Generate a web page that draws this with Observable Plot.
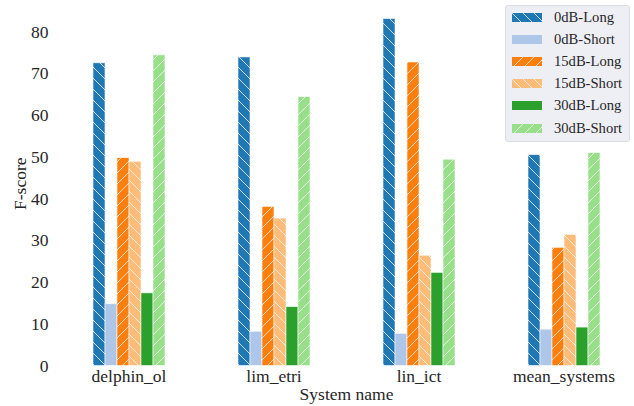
<!DOCTYPE html>
<html><head><meta charset="utf-8">
<script src="https://cdn.jsdelivr.net/npm/d3@7"></script>
<script src="https://cdn.jsdelivr.net/npm/@observablehq/plot@0.6"></script>
<style>
body{margin:0;background:#fff;}
#wrap{position:relative;width:634px;height:406px;font-family:"Liberation Serif","Times New Roman",Times,serif;}
#wrap svg, #wrap svg text, #wrap svg g{font-family:"Liberation Serif","Times New Roman",Times,serif !important;}
#legend{position:absolute;left:505px;top:5px;width:125px;height:137px;background:rgba(234,234,242,0.8);border:1px solid #dcdce4;border-radius:3px;box-sizing:border-box;}
.row{position:absolute;left:6px;height:20px;display:flex;align-items:center;font-size:14.6px;color:#262626;white-space:nowrap;font-family:"Liberation Serif","Times New Roman",Times,serif;}
.row svg{margin-right:12px;}
</style></head>
<body><div id="wrap"><div id="legend"></div></div>
<script>
const systems = ["delphin_ol", "lim_etri", "lin_ict", "mean_systems"];
const seriesNames = ["0dB-Long", "0dB-Short", "15dB-Long", "15dB-Short", "30dB-Long", "30dB-Short"];
const colors = ["#1f77b4", "#aec7e8", "#ff7f0e", "#ffbb78", "#2ca02c", "#98df8a"];
const hatches = ["back", "", "fwd", "back", "", "fwd"];
const yTicks = [0, 10, 20, 30, 40, 50, 60, 70, 80];

const v0dBLong   = [72.5, 73.9, 83.1, 50.5];
const v0dBShort  = [14.8, 8.2, 7.7, 8.7];
const v15dBLong  = [49.8, 38.1, 72.7, 28.3];
const v15dBShort = [48.9, 35.3, 26.4, 31.4];
const v30dBLong  = [17.4, 14.1, 22.3, 9.2];
const v30dBShort = [74.4, 64.4, 49.4, 51.0];
const seriesValues = [v0dBLong, v0dBShort, v15dBLong, v15dBShort, v30dBLong, v30dBShort];

const data = systems.flatMap((s, i) => seriesNames.map((n, j) => ({system: s, series: n, value: seriesValues[j][i], hatch: hatches[j]})));

const FONT = "'Liberation Serif', 'Times New Roman', Times, serif";
const chart = Plot.plot({
  width: 634, height: 406,
  marginLeft: 66, marginRight: 8, marginTop: 1, marginBottom: 40.5,
  style: {fontFamily: FONT, fontSize: "17.5px", color: "#262626", background: "white"},
  fx: {domain: systems, paddingInner: 0.5, paddingOuter: 0.178, label: "System name", labelAnchor: "center", tickSize: 0, tickPadding: 4, labelOffset: 34},
  x: {domain: seriesNames, padding: 0, axis: null},
  y: {domain: [0, 87.3], ticks: yTicks, tickSize: 0, tickPadding: 44, label: "F-score", labelAnchor: "center", labelArrow: "none", labelOffset: 79},
  color: {domain: seriesNames, range: colors},
  marks: [
    Plot.barY(data, {fx: "system", x: "series", y: "value", fill: "series", stroke: "white", strokeWidth: 0.8, strokeOpacity: 0.7}),
    Plot.barY(data.filter(d => d.hatch === "back"), {fx: "system", x: "series", y: "value", fill: "url(#hatchBack)"}),
    Plot.barY(data.filter(d => d.hatch === "fwd"), {fx: "system", x: "series", y: "value", fill: "url(#hatchFwd)"})
  ]
});

chart.querySelectorAll("text, g").forEach(el => { el.style.fontFamily = FONT; el.style.fontVariant = "normal"; });

const s = 11;
const defs = d3.select(chart).insert("defs", ":first-child");
function addPattern(id, path) {
  defs.append("pattern").attr("id", id).attr("patternUnits", "userSpaceOnUse")
    .attr("width", s).attr("height", s)
    .append("path").attr("d", path).attr("stroke", "white").attr("stroke-opacity", 0.75).attr("stroke-width", 1).attr("fill", "none");
}
addPattern("hatchBack", `M0,0L${s},${s}M-1,${s-1}L1,${s+1}M${s-1},-1L${s+1},1`);
addPattern("hatchFwd", `M0,${s}L${s},0M-1,1L1,-1M${s-1},${s+1}L${s+1},${s-1}`);

const wrap = document.getElementById("wrap");
wrap.insertBefore(chart, wrap.firstChild);

const legend = d3.select("#legend");
seriesNames.forEach((n, j) => {
  const row = legend.append("div").attr("class", "row").style("top", (1 + j * 22.2) + "px");
  const sv = row.append("svg").attr("width", 30).attr("height", 9);
  sv.append("rect").attr("width", 30).attr("height", 9).attr("fill", colors[j]);
  if (hatches[j]) sv.append("rect").attr("width", 30).attr("height", 9).attr("fill", hatches[j] === "back" ? "url(#hatchBack)" : "url(#hatchFwd)");
  row.append("span").text(n);
});
</script>
</body></html>
